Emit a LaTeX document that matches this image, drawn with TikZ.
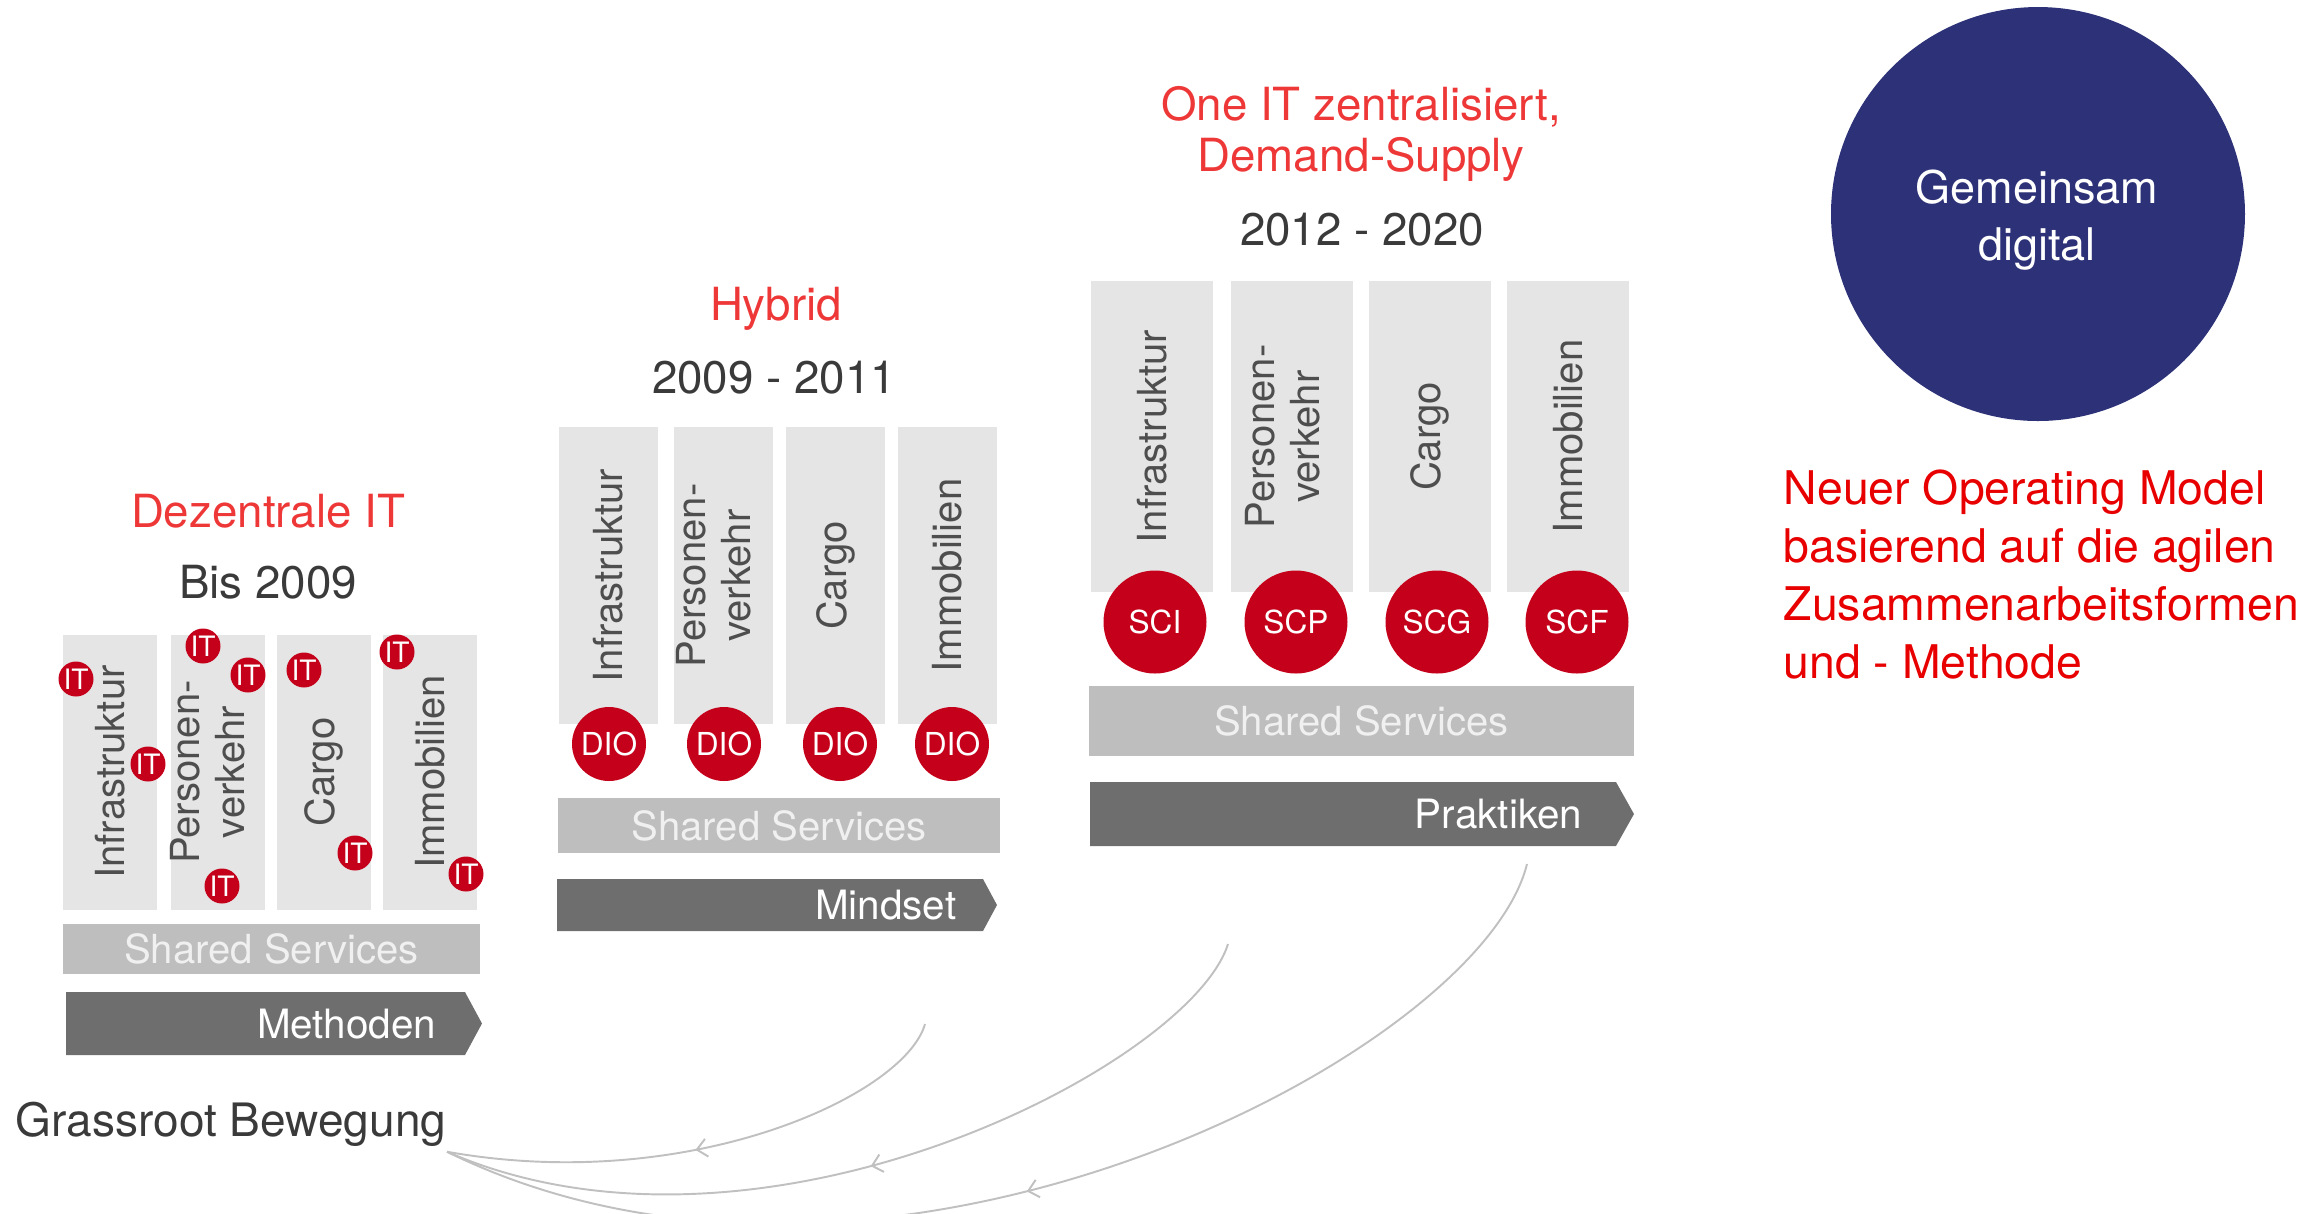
\documentclass[tikz,border=0pt]{standalone}
\usepackage{fontspec}
\setmainfont{TeX Gyre Heros}
\usepackage{tikz}
\usetikzlibrary{arrows.meta,decorations.markings}
\usepackage{xcolor}

\definecolor{titelrot}{RGB}{238,56,56}
\definecolor{hellrot}{RGB}{232,0,0}
\definecolor{dbrot}{RGB}{197,0,26}
\definecolor{balkengrau}{RGB}{229,229,229}
\definecolor{ssgrau}{RGB}{190,190,190}
\definecolor{pfeilgrau}{RGB}{110,110,110}
\definecolor{textgrau}{RGB}{58,58,58}
\definecolor{kurvengrau}{RGB}{192,192,192}
\definecolor{nachtblau}{RGB}{45,50,120}

\tikzset{
  titel/.style={text=titelrot, font=\fontsize{13}{15.6}\selectfont, inner sep=0pt, anchor=base},
  jahr/.style={text=textgrau, font=\fontsize{13}{15.6}\selectfont, inner sep=0pt, anchor=base},
  balken/.style={fill=balkengrau, inner sep=0pt},
  spartentext/.style={rotate=90, text=textgrau!90!white, font=\fontsize{11.4}{12.8}\selectfont, align=center, inner sep=0pt},
  ssbalken/.style={fill=ssgrau, text=white!94!black, font=\fontsize{11.4}{13}\selectfont, inner sep=0pt},
  pfeiltext/.style={text=white, font=\fontsize{11.5}{13}\selectfont, inner sep=0pt, anchor=east},
  itkreis/.style={circle, fill=dbrot, text=white, minimum size=3.5mm, inner sep=0pt, font=\fontsize{8}{8}\selectfont},
  diokreis/.style={circle, fill=dbrot, text=white, minimum size=7.4mm, inner sep=0pt, font=\fontsize{9}{10}\selectfont},
  sckreis/.style={circle, fill=dbrot, text=white, minimum size=10.3mm, inner sep=0pt, font=\fontsize{9}{10}\selectfont},
  kurve/.style={draw=kurvengrau, line width=0.55pt,
    decoration={markings, mark=at position #1 with {\arrow{Straight Barb[length=1mm,width=1.8mm]}}},
    postaction={decorate}},
}

\begin{document}
\begin{tikzpicture}[x=0.1mm, y=-0.1mm]
    \useasboundingbox (0,0) rectangle (2323,1213);

    % Spalte 1: Dezentrale IT
    \node[titel] (t1) at (268,527) {Dezentrale IT};
    \node[jahr] (j1) at (268,598) {Bis 2009};
    \foreach \xm/\nm/\dx/\txt in {110/inf/0/Infrastruktur, 218/per/10/{Personen-\\verkehr}, 324/car/0/Cargo, 430/imm/0/Immobilien} {
        \node[balken, minimum width=9.4mm, minimum height=27.5mm] (a\nm) at (\xm,772) {};
        \node[spartentext] (la\nm) at (\xm-\dx,772) {\txt};
    }
    \node[ssbalken, minimum width=41.7mm, minimum height=5mm] (ss1) at (271.5,949) {Shared Services};
    \fill[pfeilgrau] (66,992) -- (465,992) -- (482,1023.5) -- (465,1055) -- (66,1055) -- cycle;
    \node[pfeiltext] (methoden) at (437,1024) {Methoden};
    % verstreute IT-Einheiten
    \foreach \p [count=\i] in {(76,679),(148,764),(203,646),(248,675),(222,886),(304,670),(355,853),(397,652),(466,874)}
        \node[itkreis] (it\i) at \p {IT};

    % Spalte 2: Hybrid
    \node[titel] (t2) at (776,320) {Hybrid};
    \node[jahr] (j2) at (774,393) {2009 - 2011};
    \foreach \xm/\nm/\dx/\txt in {608.5/inf/0/Infrastruktur, 723.5/per/10/{Personen-\\verkehr}, 835.5/car/0/Cargo, 947.5/imm/0/Immobilien} {
        \node[balken, minimum width=9.9mm, minimum height=29.7mm] (b\nm) at (\xm,575.5) {};
        \node[spartentext] (lb\nm) at (\xm-\dx,575.5) {\txt};
    }
    \foreach \xm [count=\i] in {609,724,840,952}
        \node[diokreis] (dio\i) at (\xm,744) {DIO};
    \node[ssbalken, minimum width=44.2mm, minimum height=5.5mm] (ss2) at (779,825.5) {Shared Services};
    \fill[pfeilgrau] (557,879) -- (983,879) -- (997,905) -- (983,931) -- (557,931) -- cycle;
    \node[pfeiltext] (mindset) at (957,905) {Mindset};

    % Spalte 3: One IT zentralisiert
    \node[titel] (t3a) at (1361,120) {One IT zentralisiert,};
    \node[titel] (t3b) at (1361,171) {Demand-Supply};
    \node[jahr] (j3) at (1362,245) {2012 - 2020};
    \foreach \xm/\nm/\dx/\txt in {1152/inf/0/Infrastruktur, 1292/per/9/{Personen-\\verkehr}, 1430/car/0/Cargo, 1568/imm/0/Immobilien} {
        \node[balken, minimum width=12.2mm, minimum height=31.1mm] (c\nm) at (\xm,436.5) {};
        \node[spartentext] (lc\nm) at (\xm-\dx,436.5) {\txt};
    }
    \foreach \xm/\kz in {1155/SCI,1296/SCP,1437/SCG,1577/SCF}
        \node[sckreis] (\kz) at (\xm,622) {\kz};
    \node[ssbalken, minimum width=54.5mm, minimum height=7mm] (ss3) at (1361.5,721) {Shared Services};
    \fill[pfeilgrau] (1090,782) -- (1616,782) -- (1634,814) -- (1616,846) -- (1090,846) -- cycle;
    \node[pfeiltext] (praktiken) at (1583,814) {Praktiken};

    % Ziel
    \node[circle, fill=nachtblau, minimum size=41.4mm, inner sep=0pt] (kreis) at (2038,214) {};
    \node[text=white, font=\fontsize{12.8}{16.2}\selectfont, align=center, inner sep=0pt] (kreistext) at (2037,220) {Gemeinsam\\digital};
    \node[text=hellrot, font=\fontsize{13.2}{16.5}\selectfont, align=left, inner sep=0pt, anchor=north west] (modell) at (1783,469)
        {Neuer Operating Model\\basierend auf die agilen\\Zusammenarbeitsformen\\und - Methode};

    % Grassroot Bewegung
    \node[text=textgrau, font=\fontsize{13.1}{15.7}\selectfont, inner sep=0pt, anchor=base west] (gras) at (15,1136) {Grassroot Bewegung};
    \coordinate (k1) at (925,1024);
    \coordinate (k2) at (1228,944);
    \coordinate (k3) at (1527,864);
    \draw[kurve=0.52] (k1) .. controls (905,1095) and (690,1195) .. ([yshift=-0.5mm]gras.south east);
    \draw[kurve=0.5] (k2) .. controls (1190,1065) and (760,1288) .. ([yshift=-0.5mm]gras.south east);
    \draw[kurve=0.51] (k3) .. controls (1480,1055) and (880,1365) .. ([yshift=-0.5mm]gras.south east);
\end{tikzpicture}
\end{document}
